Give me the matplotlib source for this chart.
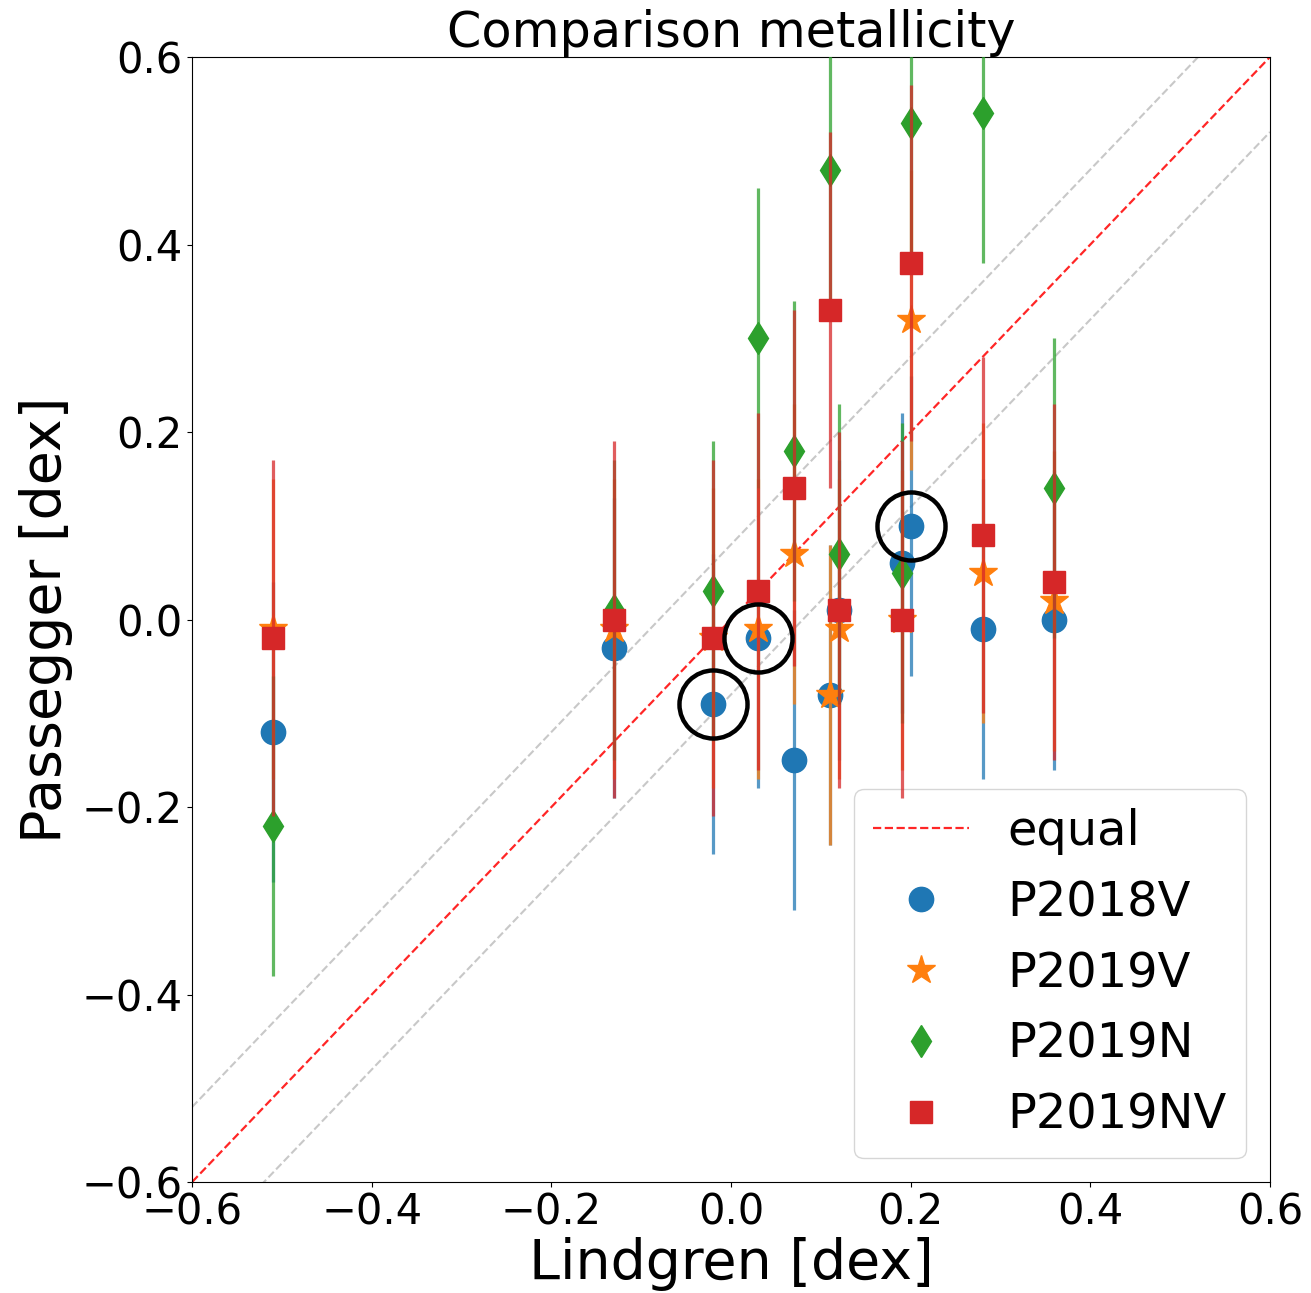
import matplotlib
matplotlib.use("Agg")
import matplotlib.pyplot as plt
from matplotlib.colors import to_rgba

# Lindgren metallicity (x) for each star
lindgren = [-0.51, -0.13, -0.02, 0.03, 0.07, 0.11, 0.12, 0.19, 0.20, 0.28, 0.36]

# Passegger metallicities for the four variants
p2018v = [-0.12, -0.03, -0.09, -0.02, -0.15, -0.08, 0.01, 0.06, 0.10, -0.01, 0.00]
p2019v = [-0.01, -0.01, -0.02, -0.01, 0.07, -0.08, -0.01, 0.00, 0.32, 0.05, 0.02]
p2019n = [-0.22, 0.01, 0.03, 0.30, 0.18, 0.48, 0.07, 0.05, 0.53, 0.54, 0.14]
p2019nv = [-0.02, 0.00, -0.02, 0.03, 0.14, 0.33, 0.01, 0.00, 0.38, 0.09, 0.04]

err_p2018v = [0.16] * 11
err_p2019v = [0.16] * 11
err_p2019n = [0.16] * 11
err_p2019nv = [0.19] * 11

# highlighted stars (black circles)
highlight_x = [-0.02, 0.03, 0.20]
highlight_y = [-0.09, -0.02, 0.10]

labels = ["P2018V", "P2019V", "P2019N", "P2019NV"]
ticks = [-0.6, -0.4, -0.2, 0.0, 0.2, 0.4, 0.6]

fig = plt.figure(figsize=(13.11, 12.93), dpi=100)
ax = fig.add_axes([0.1465, 0.0858, 0.8222, 0.8701])

lims = [-0.6, 0.6]
ax.plot(lims, [lims[0] + 0.08, lims[1] + 0.08], ls="--", color="#c8c8c8", lw=1.5, zorder=1)
ax.plot(lims, [lims[0] - 0.08, lims[1] - 0.08], ls="--", color="#c8c8c8", lw=1.5, zorder=1)
ax.plot(lims, lims, ls="--", color="red", alpha=0.85, lw=1.6, zorder=1, label="equal")

series = [
    (p2018v, err_p2018v, "o", 17.5, "C0"),
    (p2019v, err_p2019v, "*", 21, "C1"),
    (p2019n, err_p2019n, "d", 16.5, "C2"),
    (p2019nv, err_p2019nv, "s", 16.5, "C3"),
]
for i, ((yv, ev, mk, ms, c), lab) in enumerate(zip(series, labels)):
    ax.plot(lindgren, yv, ls="none", marker=mk, ms=ms, color=c, label=lab, zorder=2 + i)
    ax.errorbar(lindgren, yv, yerr=ev, fmt="none", ecolor=to_rgba(c, 0.75),
                elinewidth=2.3, capsize=0, zorder=2.5 + i)

ax.plot(highlight_x, highlight_y, ls="none", marker="o", ms=49, mfc="none",
        mec="black", mew=3.2, zorder=10)

ax.set_xlim(lims)
ax.set_ylim(lims)
ax.set_xticks(ticks)
ax.set_yticks(ticks)
ax.tick_params(labelsize=30)
ax.set_xlabel("Lindgren [dex]", fontsize=40, labelpad=2)
ax.set_ylabel("Passegger [dex]", fontsize=40, labelpad=6)
ax.set_title("Comparison metallicity", fontsize=35.5, pad=0)
ax.legend(loc="lower right", fontsize=34.5)

fig.savefig("out.png", dpi=100)
